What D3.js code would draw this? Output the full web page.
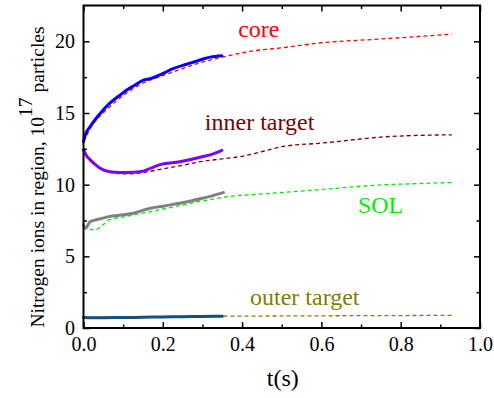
<!DOCTYPE html>
<html>
<head>
<meta charset="utf-8">
<script src="https://cdn.jsdelivr.net/npm/d3@7/dist/d3.min.js"></script>
<style>
  html, body { margin: 0; padding: 0; background: #fff; }
  svg { display: block; }
  svg text { font-family: "Liberation Serif", "Times New Roman", Times, serif; }
</style>
</head>
<body>
<svg id="chart" width="494" height="398"></svg>
<script>
// Nitrogen inventory per region (units of 1e17 particles) versus time (s).
// Solid = time-dependent simulation, dashed = reference evolution.
const coreSimT = [0, 0.005, 0.017, 0.04, 0.067, 0.09, 0.109, 0.13, 0.151, 0.168, 0.2, 0.226, 0.26, 0.294, 0.32, 0.349];
const coreSimV = [13.0, 13.5, 14.06, 14.9, 15.7, 16.2, 16.6, 16.95, 17.3, 17.4, 17.75, 18.1, 18.4, 18.7, 18.9, 19.0];
const coreRefT = [0, 0.017, 0.067, 0.109, 0.151, 0.2, 0.25, 0.3, 0.35, 0.42, 0.5, 0.6, 0.743, 0.85, 0.929];
const coreRefV = [13.0, 13.9, 15.45, 16.4, 17.1, 17.6, 18.1, 18.55, 18.9, 19.3, 19.55, 19.9, 20.15, 20.35, 20.5];

const innerSimT = [0, 0.008, 0.017, 0.03, 0.042, 0.067, 0.09, 0.109, 0.142, 0.17, 0.193, 0.243, 0.302, 0.327, 0.349];
const innerSimV = [12.43, 12.0, 11.73, 11.4, 11.15, 10.9, 10.85, 10.85, 10.9, 11.15, 11.4, 11.6, 11.96, 12.15, 12.4];
const innerRefT = [0, 0.017, 0.042, 0.067, 0.11, 0.15, 0.2, 0.25, 0.294, 0.35, 0.395, 0.45, 0.5, 0.6, 0.773, 0.929];
const innerRefV = [12.43, 11.7, 11.1, 10.85, 10.75, 10.85, 11.1, 11.35, 11.6, 11.8, 11.96, 12.3, 12.65, 12.9, 13.36, 13.48];

const solSimT = [0, 0.005, 0.017, 0.04, 0.063, 0.1, 0.126, 0.168, 0.2, 0.231, 0.252, 0.3, 0.353];
const solSimV = [7.19, 6.96, 7.42, 7.6, 7.77, 7.9, 8.01, 8.35, 8.5, 8.65, 8.75, 9.05, 9.45];
const solRefT = [0, 0.015, 0.029, 0.045, 0.054, 0.063, 0.1, 0.147, 0.231, 0.315, 0.382, 0.42, 0.5, 0.588, 0.756, 0.85, 0.929];
const solRefV = [7.12, 6.9, 6.84, 7.1, 7.31, 7.54, 7.75, 8.0, 8.47, 8.94, 9.22, 9.3, 9.45, 9.64, 9.99, 10.08, 10.15];

const outerSimT = [0, 0.05, 0.1, 0.15, 0.2, 0.25, 0.3, 0.35];
const outerSimV = [0.74, 0.72, 0.73, 0.75, 0.77, 0.79, 0.8, 0.82];
const outerRefT = [0, 0.35, 0.5, 0.7, 0.929];
const outerRefV = [0.74, 0.82, 0.84, 0.86, 0.88];

const xTicks = [0, 0.2, 0.4, 0.6, 0.8, 1.0];
const yTicks = [0, 5, 10, 15, 20];
const regionNames = ["core", "inner target", "SOL", "outer target"];
const labelT = [0.39, 0.306, 0.692, 0.42];
const labelV = [20.3, 13.83, 8.03, 1.6];

const colors = {
  core: ["#0000ff", "#ff0000"],
  inner: ["#8000ff", "#800000"],
  sol: ["#808080", "#00ee00"],
  outer: ["#15507c", "#808000"]
};
const labelColors = ["#ff0000", "#800000", "#00ee00", "#808000"];

const svg = d3.select("#chart");
const W = 494, H = 398;
const m = { left: 83.5, right: 14, top: 5.5, bottom: 70 };
const x = d3.scaleLinear().domain([0, 1.0]).range([m.left, W - m.right]);
const y = d3.scaleLinear().domain([0, 22.5]).range([H - m.bottom, m.top]);

const g = svg.append("g");

function zip(ts, vs) { return ts.map((t, i) => [t, vs[i]]); }
const line = d3.line().x(d => x(d[0])).y(d => y(d[1])).curve(d3.curveMonotoneX);

// reference (dashed) curves first, simulations on top
const series = [
  [coreRefT, coreRefV, colors.core[1], true],
  [innerRefT, innerRefV, colors.inner[1], true],
  [solRefT, solRefV, colors.sol[1], true],
  [outerRefT, outerRefV, colors.outer[1], true],
  [coreSimT, coreSimV, colors.core[0], false],
  [innerSimT, innerSimV, colors.inner[0], false],
  [solSimT, solSimV, colors.sol[0], false],
  [outerSimT, outerSimV, colors.outer[0], false]
];
series.forEach(([ts, vs, c, dashed]) => {
  g.append("path")
    .datum(zip(ts, vs))
    .attr("d", line)
    .attr("fill", "none")
    .attr("stroke", c)
    .attr("stroke-width", dashed ? 1.3 : 3)
    .attr("stroke-dasharray", dashed ? "4,3" : null)
    .attr("stroke-linecap", dashed ? "butt" : "round");
});

// axes with inward ticks on all four sides
function styleAxis(sel) {
  sel.attr("font-family", null);
  sel.select(".domain").remove();
  sel.selectAll("line").attr("stroke", "#000").attr("stroke-width", 1.5);
  sel.selectAll("text").attr("font-size", 20).attr("fill", "#000");
}
const minorX = d3.range(0.1, 1.0, 0.2);
const minorY = d3.range(2.5, 22.5, 5);

function addAxis(axis, tx, ty) {
  const a = g.append("g").attr("transform", `translate(${tx},${ty})`).call(axis);
  styleAxis(a);
  return a;
}

addAxis(d3.axisBottom(x).tickValues(xTicks).tickFormat(d3.format(".1f")).tickSizeInner(-6).tickSizeOuter(0).tickPadding(9), 0, y(0));
addAxis(d3.axisBottom(x).tickValues(minorX).tickFormat("").tickSizeInner(-3.5).tickSizeOuter(0), 0, y(0));
addAxis(d3.axisTop(x).tickValues(xTicks).tickFormat("").tickSizeInner(-6).tickSizeOuter(0), 0, y(22.5));
addAxis(d3.axisTop(x).tickValues(minorX).tickFormat("").tickSizeInner(-3.5).tickSizeOuter(0), 0, y(22.5));
addAxis(d3.axisLeft(y).tickValues(yTicks).tickSizeInner(-6).tickSizeOuter(0).tickPadding(8.5), x(0), 0);
addAxis(d3.axisLeft(y).tickValues(minorY).tickFormat("").tickSizeInner(-3.5).tickSizeOuter(0), x(0), 0);
addAxis(d3.axisRight(y).tickValues(yTicks).tickFormat("").tickSizeInner(-6).tickSizeOuter(0), x(1), 0);
addAxis(d3.axisRight(y).tickValues(minorY).tickFormat("").tickSizeInner(-3.5).tickSizeOuter(0), x(1), 0);

// frame
g.append("rect")
  .attr("x", x(0)).attr("y", y(22.5))
  .attr("width", x(1) - x(0)).attr("height", y(0) - y(22.5))
  .attr("fill", "none").attr("stroke", "#000").attr("stroke-width", 2);

// region labels
regionNames.forEach((name, i) => {
  g.append("text")
    .attr("x", x(labelT[i])).attr("y", y(labelV[i]))
    .attr("font-size", 24)
    .attr("fill", labelColors[i])
    .text(name);
});

// axis titles
g.append("text")
  .attr("x", (x(0) + x(1)) / 2 + 1).attr("y", 386)
  .attr("text-anchor", "middle").attr("font-size", 24)
  .text("t(s)");

const yTitle = g.append("text")
  .attr("transform", `translate(44,177) rotate(-90)`)
  .attr("text-anchor", "middle").attr("font-size", 19.5);
yTitle.append("tspan").text("Nitrogen ions in region, 10");
yTitle.append("tspan").attr("dy", "-0.6em").text("17");
yTitle.append("tspan").attr("dy", "0.6em").text("\u00a0particles");
</script>
</body>
</html>
